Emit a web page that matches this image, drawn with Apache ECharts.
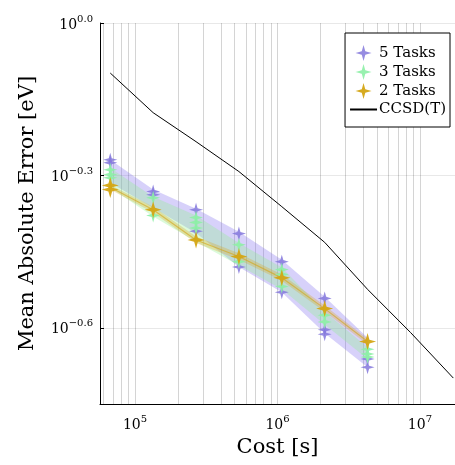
<!DOCTYPE html>
<html>
<head>
<meta charset="utf-8">
<script src="https://cdn.jsdelivr.net/npm/echarts@6/dist/echarts.min.js"></script>
<style>
html, body { margin: 0; padding: 0; background: #fff; }
#chart { width: 455px; height: 465px; }
</style>
</head>
<body>
<div id="chart"></div>
<script>
// cost [s] at each run
var cost = [67000, 134000, 268000, 536000, 1072000, 2144000, 4288000];
var ccsdCost = [67000, 134000, 268000, 536000, 1072000, 2144000, 4288000, 8576000, 17152000];
var ccsdMae = [0.797, 0.666, 0.584, 0.510, 0.435, 0.370, 0.299, 0.246, 0.200];

// individual MAE points per cost
var task5Points = [[0.538, 0.531], [0.466, 0.459], [0.429, 0.389], [0.385, 0.331], [0.339, 0.295], [0.287, 0.249, 0.244], [0.218, 0.210]];
var task3Points = [[0.514, 0.503, 0.496], [0.453, 0.418], [0.414, 0.405, 0.395], [0.366, 0.339], [0.327, 0.320, 0.303], [0.266, 0.258], [0.228, 0.223, 0.220]];
var task2Points = [[0.479, 0.470], [0.429], [0.374], [0.347], [0.315], [0.274], [0.236]];
var task2Line = [0.475, 0.429, 0.374, 0.347, 0.315, 0.274, 0.236];

// ribbons
var task5Hi = [0.538, 0.470, 0.431, 0.388, 0.342, 0.289, 0.240];
var task5Lo = [0.485, 0.433, 0.386, 0.331, 0.295, 0.245, 0.210];
var task3Hi = [0.518, 0.455, 0.418, 0.369, 0.330, 0.270, 0.230];
var task3Lo = [0.474, 0.416, 0.371, 0.333, 0.299, 0.255, 0.218];
var task2Hi = [0.480, 0.435, 0.380, 0.352, 0.320, 0.278, 0.239];
var task2Lo = [0.470, 0.423, 0.369, 0.342, 0.311, 0.270, 0.233];

// tick labels (exponents of 10)
var xTickExps = [5, 6, 7];
var yTickExps = [-0.6, -0.3, 0.0];

var serif = 'DejaVu Serif';
var star = 'path://M0,-10 L2.2,-2.2 L10,0 L2.2,2.2 L0,10 L-2.2,2.2 L-10,0 L-2.2,-2.2 Z';

var xLabelVals = xTickExps.map(function (e) { return Math.pow(10, e); });
var yLabelVals = yTickExps.map(function (e) { return Math.pow(10, e); });
// log grid: 1..9 x 10^k
var xGridVals = [];
for (var k = 4; k <= 7; k++) {
    for (var m = 1; m <= 9; m++) xGridVals.push(m * Math.pow(10, k));
}

function expText(e, digits) {
    var s = e.toFixed(digits);
    if (s.charAt(0) === '-') s = '\u2212' + s.slice(1);
    if (s === '\u22120.0') s = '0.0';
    return '{b|10}{e|' + s + '}';
}

var richSup = {
    b: { fontFamily: serif, fontSize: 14, color: '#000', verticalAlign: 'bottom' },
    e: { fontFamily: serif, fontSize: 10, color: '#000', verticalAlign: 'bottom', padding: [0, 0, 8, 0] }
};

function points(list) {
    var out = [];
    list.forEach(function (vals, i) {
        vals.forEach(function (v) { out.push([cost[i], v]); });
    });
    return out;
}

function band(hi, lo, color) {
    return {
        type: 'custom',
        silent: true,
        z: 1,
        data: cost.map(function (c, i) { return [c, lo[i], hi[i]]; }),
        renderItem: function (params, api) {
            if (params.dataIndex !== 0) return;
            var pts = [];
            for (var i = 0; i < cost.length; i++) pts.push(api.coord([cost[i], hi[i]]));
            for (var j = cost.length - 1; j >= 0; j--) pts.push(api.coord([cost[j], lo[j]]));
            return { type: 'polygon', shape: { points: pts }, style: { fill: color } };
        }
    };
}

var myChart = echarts.init(document.getElementById('chart'));

var option = {
    animation: false,
    backgroundColor: '#fff',
    grid: { left: 100, right: 0, top: 23, bottom: 61 },
    legend: {
        orient: 'vertical',
        right: 5,
        top: 33,
        padding: [12, 4, 10, 4],
        itemGap: 3,
        itemWidth: 27,
        itemHeight: 16,
        backgroundColor: '#fff',
        borderColor: '#000',
        borderWidth: 1,
        borderRadius: 0,
        textStyle: { fontFamily: serif, fontSize: 15, color: '#000', padding: [0, 0, 0, -3] },
        data: ['5 Tasks', '3 Tasks', '2 Tasks', { name: 'CCSD(T)', itemStyle: { opacity: 0 } }]
    },
    xAxis: {
        type: 'log',
        min: Math.pow(10, 4.754),
        max: Math.pow(10, 7.246),
        name: 'Cost [s]',
        nameLocation: 'middle',
        nameGap: 33,
        nameTextStyle: { fontFamily: serif, fontSize: 21, color: '#000' },
        axisLine: { show: true, lineStyle: { color: '#000', width: 1 } },
        axisTick: { show: false, customValues: xGridVals },
        axisLabel: {
            customValues: xLabelVals,
            margin: 10,
            formatter: function (v) { return expText(Math.log10(v), 0); },
            rich: richSup
        },
        splitLine: { show: true, lineStyle: { color: 'rgba(0,0,0,0.17)', width: 1 } }
    },
    yAxis: {
        type: 'log',
        min: Math.pow(10, -0.75),
        max: 1,
        name: 'Mean Absolute Error [eV]',
        nameLocation: 'middle',
        nameGap: 62,
        nameTextStyle: { fontFamily: serif, fontSize: 21, color: '#000' },
        axisLine: { show: true, lineStyle: { color: '#000', width: 1 } },
        axisTick: { show: true, inside: true, length: 4, customValues: yLabelVals, lineStyle: { color: '#000' } },
        axisLabel: {
            customValues: yLabelVals,
            margin: 7,
            formatter: function (v) { return expText(Math.log10(v), 1); },
            rich: richSup
        },
        splitLine: { show: true, lineStyle: { color: 'rgba(0,0,0,0.09)', width: 1 } }
    },
    series: [
        band(task5Hi, task5Lo, 'rgba(123,104,238,0.30)'),
        band(task3Hi, task3Lo, 'rgba(144,238,144,0.32)'),
        band(task2Hi, task2Lo, 'rgba(218,165,32,0.30)'),
        {
            name: '2 Tasks mean',
            type: 'line',
            z: 2,
            symbol: 'none',
            lineStyle: { color: 'rgba(212,165,20,0.6)', width: 1.2 },
            data: cost.map(function (c, i) { return [c, task2Line[i]]; })
        },
        {
            name: 'CCSD(T)',
            type: 'line',
            z: 3,
            symbol: 'none',
            color: '#000',
            lineStyle: { color: '#000', width: 1 },
            data: ccsdCost.map(function (c, i) { return [c, ccsdMae[i]]; })
        },
        {
            name: '5 Tasks',
            type: 'scatter',
            z: 4,
            symbol: star,
            symbolKeepAspect: true,
            symbolSize: 14,
            itemStyle: { color: '#8478dc', opacity: 0.85 },
            data: points(task5Points)
        },
        {
            name: '3 Tasks',
            type: 'scatter',
            z: 5,
            symbol: star,
            symbolKeepAspect: true,
            symbolSize: 14,
            itemStyle: { color: '#8df0a6', opacity: 0.9 },
            data: points(task3Points)
        },
        {
            name: '2 Tasks',
            type: 'scatter',
            z: 6,
            symbol: star,
            symbolKeepAspect: true,
            symbolSize: 17,
            itemStyle: { color: '#d4a514', opacity: 0.95 },
            data: points(task2Points)
        }
    ]
};

myChart.setOption(option);
window.addEventListener('resize', function () { myChart.resize(); });
</script>
</body>
</html>
